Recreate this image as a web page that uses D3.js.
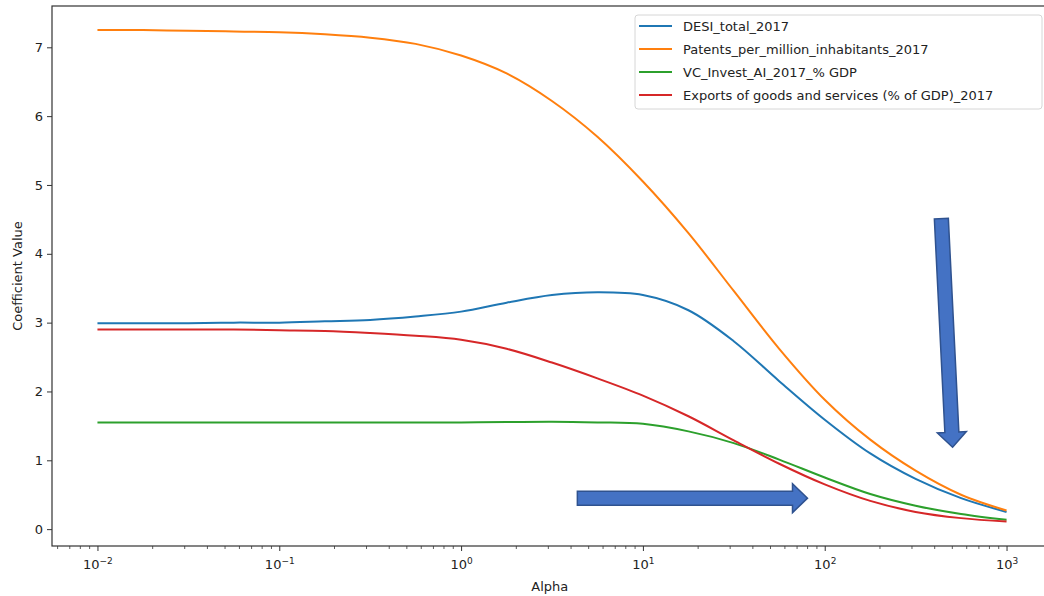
<!DOCTYPE html>
<html lang="en">
<head>
  <meta charset="UTF-8">
  <title>Ridge coefficient paths</title>
  <script src="https://d3js.org/d3.v7.min.js"></script>
  <style>
    body { margin: 0; padding: 0; background: #fff; font-family: 'DejaVu Sans', sans-serif; }
    svg { display: block; }
  </style>
</head>
<body>
  <svg id="chart"></svg>
  <script>
    // Alpha values (quarter-decade steps) and the coefficient read for each series
    const alphas = [0.01, 0.0178, 0.0316, 0.0562, 0.1, 0.178, 0.316, 0.562, 1, 1.78, 3.16, 5.62,
                    10, 17.8, 31.6, 56.2, 100, 178, 316, 562, 1000];
    const desi       = [2.99, 2.99, 2.99, 3.00, 3.00, 3.02, 3.04, 3.09, 3.16, 3.29, 3.40, 3.44,
                        3.40, 3.18, 2.73, 2.15, 1.59, 1.10, 0.73, 0.45, 0.25];
    const patents    = [7.25, 7.25, 7.24, 7.23, 7.22, 7.19, 7.14, 7.05, 6.88, 6.62, 6.22, 5.70,
                        5.05, 4.30, 3.46, 2.62, 1.88, 1.30, 0.85, 0.50, 0.27];
    const vcInvest   = [1.55, 1.55, 1.55, 1.55, 1.55, 1.55, 1.55, 1.55, 1.55, 1.555, 1.56, 1.55,
                        1.53, 1.42, 1.25, 1.01, 0.75, 0.51, 0.34, 0.22, 0.135];
    const exportsGdp = [2.90, 2.90, 2.90, 2.90, 2.89, 2.88, 2.85, 2.81, 2.75, 2.62, 2.42, 2.19,
                        1.94, 1.64, 1.29, 0.95, 0.65, 0.41, 0.25, 0.16, 0.11];

    const seriesNames = ["DESI_total_2017", "Patents_per_million_inhabitants_2017",
                         "VC_Invest_AI_2017_% GDP", "Exports of goods and services (% of GDP)_2017"];
    const seriesValues = [desi, patents, vcInvest, exportsGdp];
    const colors = ["#1f77b4", "#ff7f0e", "#2ca02c", "#d62728"];

    const xMajor = [0.01, 0.1, 1, 10, 100, 1000];
    const xExponents = ["\u22122", "\u22121", "0", "1", "2", "3"];
    const yTicks = [0, 1, 2, 3, 4, 5, 6, 7];

    // annotation arrows, in data units: [alpha, value] start -> tip
    const arrows = [
      { from: [438, 4.51], to: [505, 1.19] },
      { from: [4.36, 0.45], to: [80.4, 0.45] }
    ];

    const width = 1044, height = 596;
    const margin = { left: 52, top: 6, right: -8, bottom: 50 };
    const svg = d3.select("#chart").attr("width", width).attr("height", height);

    const x = d3.scaleLog()
      .domain([Math.pow(10, -2.25), Math.pow(10, 3.25)])
      .range([margin.left, width - margin.right]);
    const y = d3.scaleLinear()
      .domain([-0.245, 7.6])
      .range([height - margin.bottom, margin.top]);

    const plot = svg.append("g");

    // lines
    const line = d3.line()
      .x(d => x(d[0]))
      .y(d => y(d[1]))
      .curve(d3.curveCatmullRom.alpha(0.5));

    seriesValues.forEach((vals, i) => {
      plot.append("path")
        .datum(alphas.map((a, j) => [a, vals[j]]))
        .attr("fill", "none")
        .attr("stroke", colors[i])
        .attr("stroke-width", 2)
        .attr("d", line);
    });

    // x axis: minor ticks
    const minor = [];
    for (let e = -3; e <= 3; e++) {
      for (let m = 2; m <= 9; m++) {
        const v = m * Math.pow(10, e);
        if (v >= x.domain()[0] && v <= x.domain()[1]) minor.push(v);
      }
    }
    const gMinor = svg.append("g")
      .attr("transform", `translate(0,${height - margin.bottom})`)
      .call(d3.axisBottom(x).tickValues(minor).tickSize(3).tickFormat(""));
    gMinor.select(".domain").remove();
    gMinor.selectAll("line").attr("stroke", "#333").attr("stroke-width", 0.8);

    const gx = svg.append("g")
      .attr("transform", `translate(0,${height - margin.bottom})`)
      .call(d3.axisBottom(x).tickValues(xMajor).tickSize(5).tickPadding(4).tickFormat(""));
    gx.select(".domain").remove();
    gx.selectAll("line").attr("stroke", "#333").attr("stroke-width", 1);
    gx.selectAll(".tick text").each(function (d, i) {
      const t = d3.select(this)
        .attr("font-family", "'DejaVu Sans', sans-serif")
        .attr("font-size", 13)
        .attr("fill", "#222")
        .attr("dy", "1.05em");
      t.text("10");
      t.append("tspan")
        .attr("dy", "-0.55em")
        .attr("font-size", 9)
        .text(xExponents[i]);
    });

    // y axis
    const gy = svg.append("g")
      .attr("transform", `translate(${margin.left},0)`)
      .call(d3.axisLeft(y).tickValues(yTicks).tickSize(5).tickPadding(4));
    gy.select(".domain").remove();
    gy.selectAll("line").attr("stroke", "#333").attr("stroke-width", 1);
    gy.selectAll("text")
      .attr("font-family", "'DejaVu Sans', sans-serif")
      .attr("font-size", 13)
      .attr("fill", "#222");

    // frame
    svg.append("rect")
      .attr("x", margin.left).attr("y", margin.top)
      .attr("width", x.range()[1] - margin.left)
      .attr("height", y.range()[0] - margin.top)
      .attr("fill", "none")
      .attr("stroke", "#333")
      .attr("stroke-width", 1.2);

    // axis labels
    svg.append("text")
      .attr("x", (margin.left + x(1000) + 45) / 2 - 2)
      .attr("y", 591)
      .attr("text-anchor", "middle")
      .attr("font-size", 13)
      .attr("fill", "#222")
      .text("Alpha");
    svg.append("text")
      .attr("transform", `translate(22,${(margin.top + y.range()[0]) / 2}) rotate(-90)`)
      .attr("text-anchor", "middle")
      .attr("font-size", 13)
      .attr("fill", "#222")
      .text("Coefficient Value");

    // legend
    const lg = svg.append("g").attr("transform", "translate(635,15)");
    lg.append("rect")
      .attr("width", 407).attr("height", 94)
      .attr("rx", 3)
      .attr("fill", "#fff").attr("fill-opacity", 0.8)
      .attr("stroke", "#d6d6d6");
    seriesNames.forEach((name, i) => {
      const yy = 11 + i * 23;
      lg.append("line")
        .attr("x1", 4).attr("x2", 37)
        .attr("y1", yy).attr("y2", yy)
        .attr("stroke", colors[i]).attr("stroke-width", 2);
      lg.append("text")
        .attr("x", 48).attr("y", yy)
        .attr("dy", "0.35em")
        .attr("font-size", 13)
        .attr("fill", "#222")
        .text(name);
    });

    // block arrows drawn over the plot
    const shaft = 14, headW = 29, headL = 15;
    arrows.forEach(a => {
      const x0 = x(a.from[0]), y0 = y(a.from[1]);
      const x1 = x(a.to[0]), y1 = y(a.to[1]);
      const len = Math.hypot(x1 - x0, y1 - y0);
      const ang = Math.atan2(y1 - y0, x1 - x0) * 180 / Math.PI;
      const pts = [
        [0, -shaft / 2], [len - headL, -shaft / 2], [len - headL, -headW / 2],
        [len, 0], [len - headL, headW / 2], [len - headL, shaft / 2], [0, shaft / 2]
      ];
      svg.append("polygon")
        .attr("points", pts.map(p => p.join(",")).join(" "))
        .attr("transform", `translate(${x0},${y0}) rotate(${ang})`)
        .attr("fill", "#4472c4")
        .attr("stroke", "#2f528f")
        .attr("stroke-width", 1.5);
    });
  </script>
</body>
</html>
